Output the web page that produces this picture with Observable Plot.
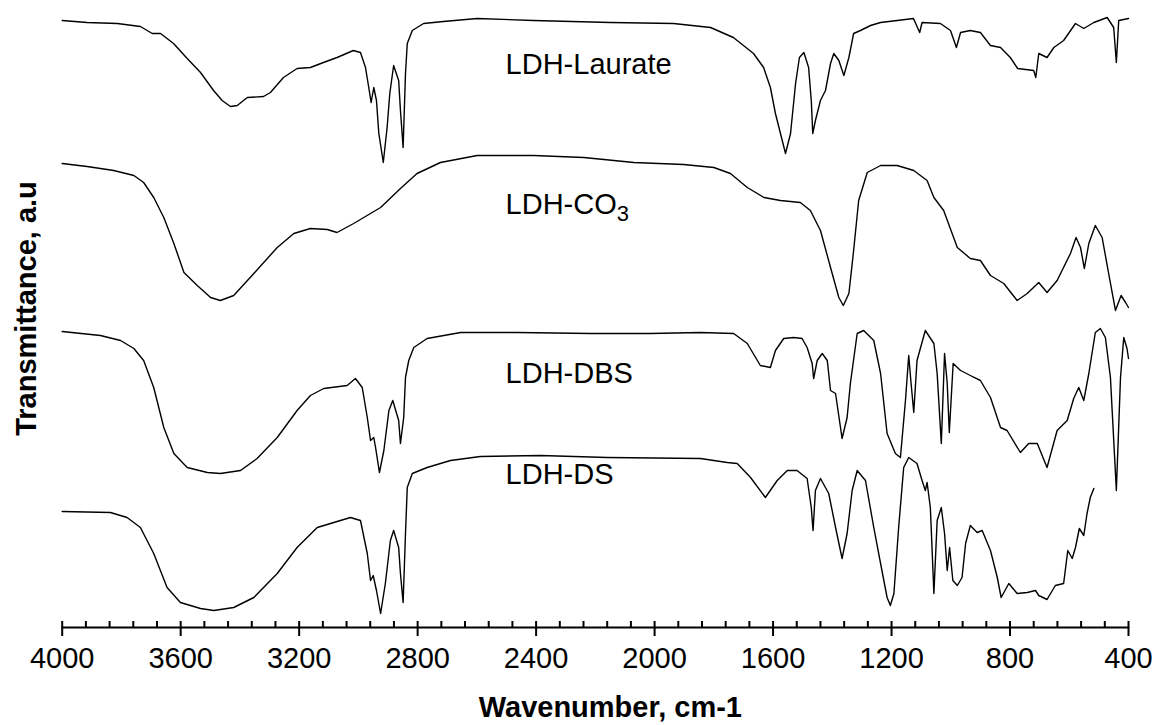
<!DOCTYPE html>
<html><head><meta charset="utf-8">
<script src="https://cdn.jsdelivr.net/npm/d3@7"></script>
<script src="https://cdn.jsdelivr.net/npm/@observablehq/plot@0.6"></script>
<style>html,body{margin:0;padding:0;background:#fff}</style>
</head><body><div id="chart"></div>
<script>
// Tick values (wavenumber, cm-1)
const majorTicks = [4000, 3600, 3200, 2800, 2400, 2000, 1600, 1200, 800, 400];
const minorTicks = d3.range(4000, 399, -80);

// Spectra: [wavenumber, transmittance (a.u., offset)]
const laurate = [[4000,607],[3916,605],[3814,604],[3736,601],[3696,594],[3668,594],[3624,584],[3578,569],[3533,555],[3489,537],[3460,527],[3432,521],[3409,522],[3375,530],[3320,531],[3297,535],[3253,550],[3207,559],[3162,560],[3118,565],[3072,570],[3017,577],[2993,575],[2976,560],[2965,540],[2957,525],[2948,540],[2939,527],[2931,494],[2916,465],[2903,500],[2894,534],[2881,562],[2864,547],[2858,517],[2849,480],[2841,554],[2835,584],[2818,597],[2780,604],[2713,606],[2599,609],[2409,607],[2149,605],[1936,604],[1811,600],[1734,590],[1666,574],[1632,560],[1609,540],[1592,514],[1575,494],[1558,474],[1541,494],[1524,544],[1511,570],[1496,575],[1480,560],[1471,527],[1466,494],[1457,507],[1440,527],[1423,537],[1406,564],[1395,574],[1378,567],[1361,552],[1344,570],[1328,594],[1305,597],[1271,602],[1237,605],[1181,607],[1126,609],[1105,595],[1097,605],[1035,604],[1001,597],[981,580],[967,595],[934,597],[900,595],[866,582],[832,580],[799,570],[774,559],[720,557],[713,550],[703,574],[675,570],[652,580],[619,587],[579,604],[551,599],[517,605],[472,610],[450,600],[441,565],[433,607],[400,609]];
const co3 = [[4000,464],[3916,461],[3826,457],[3758,452],[3725,445],[3691,430],[3657,410],[3623,384],[3589,355],[3544,342],[3499,330],[3466,327],[3421,332],[3353,354],[3274,380],[3218,394],[3162,399],[3105,398],[3072,395],[3016,404],[2925,420],[2858,439],[2802,454],[2723,465],[2599,472],[2408,472],[2239,470],[2070,465],[1902,463],[1800,460],[1744,454],[1687,440],[1631,430],[1575,427],[1508,425],[1474,417],[1440,397],[1406,360],[1378,330],[1363,322],[1344,334],[1328,377],[1311,427],[1282,455],[1237,462],[1181,462],[1125,457],[1080,447],[1057,430],[1024,417],[978,380],[934,369],[900,367],[866,352],[821,344],[776,327],[742,334],[703,345],[675,335],[641,347],[596,374],[577,390],[562,380],[549,359],[534,384],[512,402],[489,390],[467,354],[444,317],[425,332],[410,325],[400,320]];
const dbs = [[4000,296],[3871,292],[3803,287],[3758,279],[3725,267],[3691,240],[3657,200],[3623,174],[3578,160],[3510,155],[3466,154],[3398,157],[3342,169],[3274,190],[3207,217],[3162,232],[3117,239],[3038,242],[3010,249],[2987,240],[2970,210],[2959,187],[2948,190],[2942,180],[2929,155],[2914,177],[2897,217],[2884,227],[2864,207],[2858,184],[2847,210],[2841,250],[2830,267],[2813,280],[2768,289],[2655,295],[2464,295],[2216,294],[2014,294],[1845,295],[1733,294],[1687,284],[1643,262],[1609,260],[1592,277],[1564,289],[1530,290],[1502,289],[1485,280],[1468,264],[1463,249],[1451,267],[1434,274],[1417,267],[1406,237],[1389,234],[1367,189],[1350,210],[1339,244],[1316,294],[1294,297],[1260,287],[1237,254],[1215,194],[1187,174],[1170,170],[1153,227],[1142,272],[1134,244],[1125,215],[1114,267],[1086,297],[1057,284],[1046,254],[1032,184],[1021,274],[1012,244],[1005,195],[992,264],[967,257],[934,252],[900,247],[866,230],[832,200],[810,197],[765,175],[737,184],[708,184],[675,160],[641,197],[607,207],[585,229],[568,240],[551,227],[534,254],[512,295],[495,299],[478,290],[461,250],[441,137],[427,250],[416,290],[405,279],[400,269]];
const ds = [[4000,116],[3837,115],[3781,110],[3736,100],[3691,74],[3646,40],[3601,25],[3533,19],[3488,17],[3421,20],[3353,30],[3274,54],[3207,80],[3139,100],[3083,105],[3027,110],[2993,107],[2970,74],[2959,47],[2950,52],[2939,37],[2925,14],[2909,44],[2892,87],[2881,97],[2864,80],[2858,54],[2849,25],[2841,94],[2835,140],[2818,154],[2768,160],[2689,167],[2588,171],[2385,172],[2160,170],[1845,169],[1755,165],[1721,164],[1676,150],[1626,130],[1586,147],[1552,157],[1519,157],[1485,149],[1471,120],[1465,97],[1457,137],[1440,149],[1412,134],[1389,100],[1367,69],[1350,94],[1333,137],[1316,157],[1288,147],[1260,100],[1237,64],[1215,30],[1204,22],[1192,34],[1176,100],[1159,160],[1142,170],[1114,164],[1097,147],[1086,137],[1080,145],[1069,120],[1057,34],[1046,107],[1032,120],[1021,94],[1012,57],[1004,80],[993,47],[978,42],[962,50],[950,84],[934,102],[911,95],[894,97],[866,77],[843,50],[830,30],[804,44],[776,34],[742,35],[714,37],[703,32],[675,28],[647,42],[619,44],[605,77],[590,69],[579,80],[566,99],[551,92],[540,114],[529,130],[517,139]];

// Curve annotations
const labelText = ["LDH-Laurate", "LDH-CO3", "LDH-DBS", "LDH-DS"];
const labelAtW = [2503, 2503, 2503, 2503];
const labelAtT = [554, 414, 245, 144];

const seriesNames = ["LDH-Laurate", "LDH-CO3", "LDH-DBS", "LDH-DS"];
const seriesData = [laurate, co3, dbs, ds];
const rows = seriesData.flatMap((s, i) => s.map(([w, t]) => ({series: seriesNames[i], w, t})));
const labels = labelText.map((text, i) => ({text, w: labelAtW[i], t: labelAtT[i]}));

const font = "'Liberation Sans', Arial, Helvetica, sans-serif";

const chart = Plot.plot({
  width: 1158, height: 725,
  marginLeft: 61.7, marginRight: 30, marginTop: 7, marginBottom: 98,
  style: {fontFamily: font, background: "#fff", color: "#000"},
  x: {domain: [4000, 400], label: null},
  y: {domain: [0, 620], axis: null, label: null},
  marks: [
    Plot.ruleY([0], {stroke: "#000", strokeWidth: 2}),
    Plot.axisX(minorTicks, {anchor: "top", frameAnchor: "bottom", tickSize: 7, strokeWidth: 2, fill: "none", label: null}),
    Plot.axisX(majorTicks, {anchor: "bottom", tickSize: 9, tickPadding: 11, strokeWidth: 2, fontSize: 29, tickFormat: d => String(d), label: null}),
    Plot.line(rows, {x: "w", y: "t", z: "series", stroke: "#000", strokeWidth: 1.4, strokeLinejoin: "round"}),
    Plot.text(labels, {x: "w", y: "t", text: "text", textAnchor: "start", lineAnchor: "bottom", fontSize: 29, fill: "#000"}),
    Plot.text(["Wavenumber, cm-1"], {text: d => d, frameAnchor: "bottom", dx: 15, dy: 89, lineAnchor: "bottom", fontSize: 29, fontWeight: "bold", fill: "#000"}),
    Plot.text(["Transmittance, a.u"], {text: d => d, frameAnchor: "left", rotate: -90, dx: -26.7, dy: -9, lineAnchor: "bottom", textAnchor: "middle", fontSize: 29, fontWeight: "bold", fill: "#000"})
  ]
});

chart.querySelectorAll("text").forEach(t => {
  if (t.textContent === "LDH-CO3") {
    t.textContent = "LDH-CO";
    const ts = document.createElementNS("http://www.w3.org/2000/svg", "tspan");
    ts.setAttribute("dy", "7");
    ts.setAttribute("font-size", "22");
    ts.textContent = "3";
    t.appendChild(ts);
  }
});

document.getElementById("chart").appendChild(chart);
</script>
</body></html>
